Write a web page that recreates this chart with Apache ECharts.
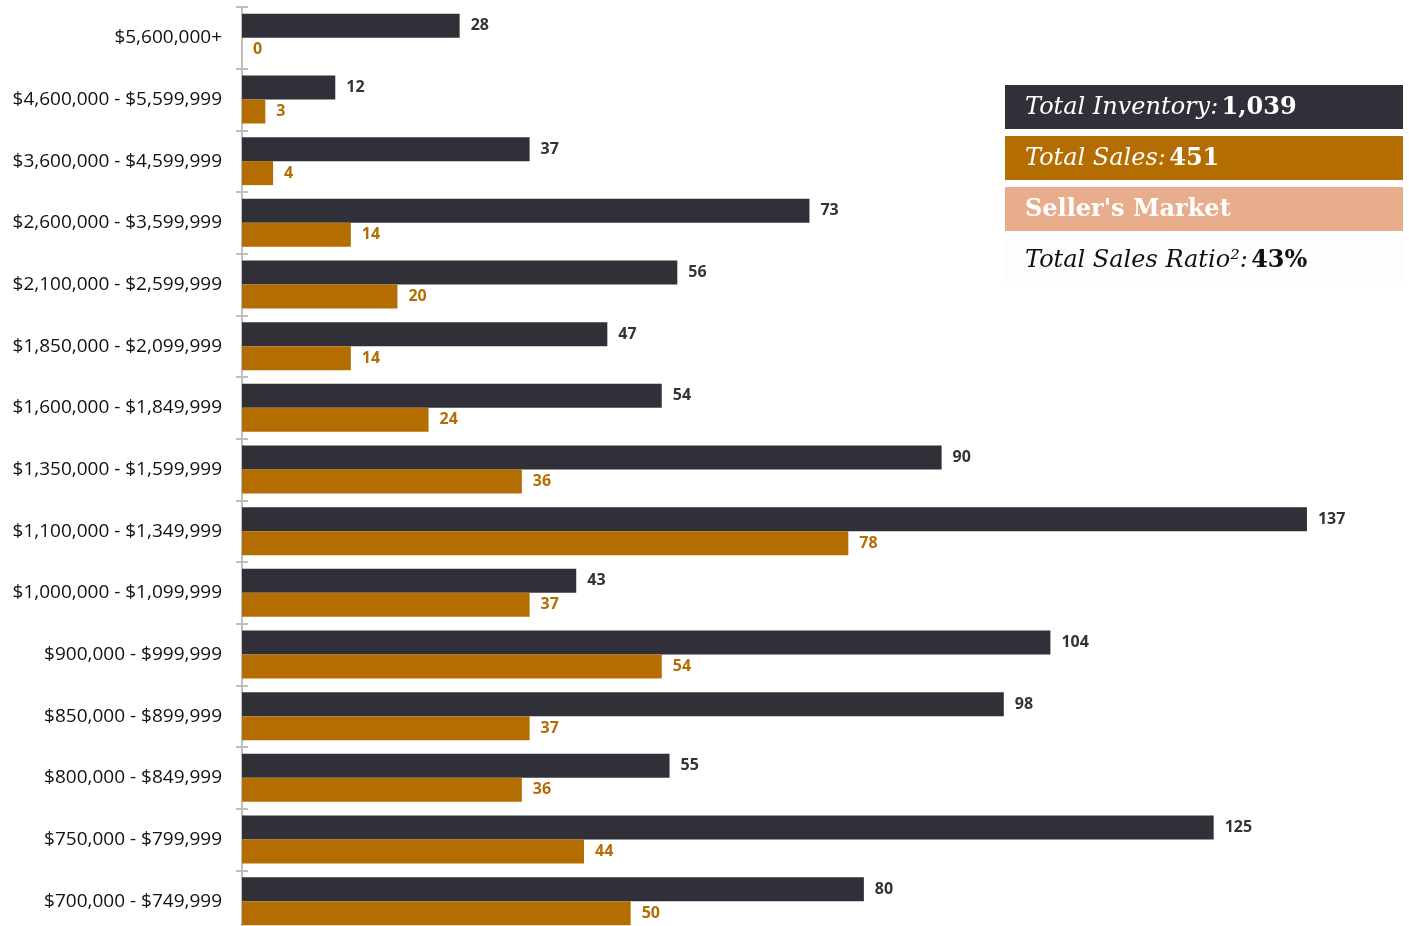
<!DOCTYPE html>
<html>
<head>
<meta charset="utf-8">
<script src="https://cdn.jsdelivr.net/npm/echarts@6/dist/echarts.min.js"></script>
<style>
  html, body { margin: 0; padding: 0; background: #fff; }
  #chart { width: 1409px; height: 926px; }
</style>
</head>
<body>
<div id="chart"></div>
<script>
var priceRanges = [
    '$5,600,000+', '$4,600,000 - $5,599,999', '$3,600,000 - $4,599,999',
    '$2,600,000 - $3,599,999', '$2,100,000 - $2,599,999', '$1,850,000 - $2,099,999',
    '$1,600,000 - $1,849,999', '$1,350,000 - $1,599,999', '$1,100,000 - $1,349,999',
    '$1,000,000 - $1,099,999', '$900,000 - $999,999', '$850,000 - $899,999',
    '$800,000 - $849,999', '$750,000 - $799,999', '$700,000 - $749,999'
];
var inventory = [28, 12, 37, 73, 56, 47, 54, 90, 137, 43, 104, 98, 55, 125, 80];
var sales = [0, 3, 4, 14, 20, 14, 24, 36, 78, 37, 54, 37, 36, 44, 50];

var DARK = '#313038';
var ORANGE = '#b36d00';
var PEACH = '#e8ad8c';

var myChart = echarts.init(document.getElementById('chart'));

function infoBox(y, bg, text, rich) {
    return {
        type: 'group',
        left: 1005,
        top: y,
        children: [
            { type: 'rect', shape: { x: 0, y: 0, width: 398, height: 44 }, style: { fill: bg } },
            {
                type: 'text', x: 20, y: 23,
                style: { text: text, rich: rich, verticalAlign: 'middle', align: 'left' }
            }
        ]
    };
}

var serif = '"DejaVu Serif", serif';
function richStyles(col) {
    return {
        a: { fontFamily: serif, fontStyle: 'italic', fontSize: 24, fill: col },
        b: { fontFamily: serif, fontWeight: 'bold', fontSize: 24, fill: col }
    };
}

var option = {
    animation: false,
    grid: {
        left: 242, width: 1166, top: 7, height: 925,
        containLabel: false, outerBoundsMode: 'none'
    },
    xAxis: {
        type: 'value', min: 0, max: 150, show: false
    },
    yAxis: [
        {
            type: 'category',
            inverse: true,
            data: priceRanges,
            axisLine: { lineStyle: { color: '#bfbfbf', width: 2 } },
            axisTick: { show: true, length: 6, lineStyle: { color: '#bfbfbf', width: 2 } },
            axisLabel: { color: '#111', fontFamily: 'Open Sans', fontSize: 19, margin: 20 }
        },
        {
            // inner half of the cross ticks
            type: 'category',
            position: 'left',
            inverse: true,
            data: priceRanges,
            axisLine: { show: false },
            axisTick: { show: true, inside: true, length: 6, lineStyle: { color: '#bfbfbf', width: 2 } },
            axisLabel: { show: false }
        }
    ],
    series: [
        {
            name: 'Inventory', type: 'bar', data: inventory,
            barWidth: 24, barGap: '0%',
            itemStyle: { color: DARK },
            label: {
                show: true, position: 'right', distance: 11,
                color: '#333', fontFamily: 'Open Sans', fontWeight: 'bold', fontSize: 16
            }
        },
        {
            name: 'Sales', type: 'bar', data: sales,
            barWidth: 24, barGap: '0%',
            itemStyle: { color: ORANGE },
            label: {
                show: true, position: 'right', distance: 11,
                color: ORANGE, fontFamily: 'Open Sans', fontWeight: 'bold', fontSize: 16
            }
        }
    ],
    graphic: [
        infoBox(85, DARK, '{a|Total Inventory:} {b|1,039}', richStyles('#fff')),
        infoBox(136, ORANGE, '{a|Total Sales:} {b|451}', richStyles('#fff')),
        infoBox(187, PEACH, '{b|Seller\'s Market}', richStyles('#fff')),
        infoBox(238, '#fdfdfd', '{a|Total Sales Ratio²:} {b|43%}', richStyles('#111'))
    ]
};
myChart.setOption(option);
</script>
</body>
</html>
